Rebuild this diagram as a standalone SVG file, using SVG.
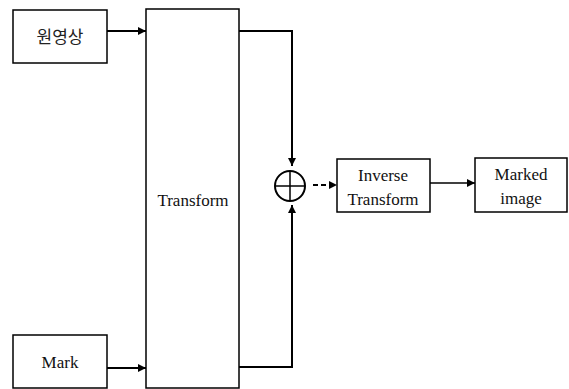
<svg xmlns="http://www.w3.org/2000/svg" width="569" height="389" viewBox="0 0 569 389">
<defs>
<style>
.box{fill:#fff;stroke:#000;stroke-width:1.5}
.t{font-size:17px;fill:#111;text-anchor:middle}
.k{font-family:'Noto Sans CJK KR','Noto Sans',sans-serif;font-size:17px;fill:#222;text-anchor:middle}
.ln{fill:none;stroke:#000;stroke-width:2}
.thin{fill:none;stroke:#000;stroke-width:1.5}
</style>
<marker id="ah" viewBox="0 0 10 10" refX="10" refY="5" markerWidth="8" markerHeight="8" markerUnits="userSpaceOnUse" orient="auto">
<path d="M0,0 L10,5 L0,10 Z" fill="#000"/>
</marker>
</defs>
<rect width="569" height="389" fill="#fff"/>
<g id="node-orig">
<rect class="box" x="13" y="10" width="94" height="53"/>
<text class="k" x="60" y="43">원영상</text>
</g>
<g font-family="'Liberation Serif', 'Times New Roman', serif">
<g id="node-mark">
<rect class="box" x="13" y="335" width="94" height="53"/>
<text class="t" x="60" y="368">Mark</text>
</g>
<g id="node-transform">
<rect class="box" x="146" y="9" width="93" height="379"/>
<text class="t" x="193" y="206">Transform</text>
</g>
<g id="node-inverse">
<rect class="box" x="337" y="159" width="93" height="53"/>
<text class="t" x="383" y="181">Inverse</text>
<text class="t" x="383" y="205">Transform</text>
</g>
<g id="node-marked">
<rect class="box" x="475" y="158" width="92" height="54"/>
<text class="t" x="521" y="180">Marked</text>
<text class="t" x="521" y="204">image</text>
</g>
</g>
<g id="node-sum">
<circle cx="290" cy="186" r="15" fill="#fff" stroke="#000" stroke-width="2"/>
<line x1="275" y1="186" x2="305" y2="186" stroke="#000" stroke-width="1.5"/>
<line x1="290" y1="171" x2="290" y2="201" stroke="#000" stroke-width="1.5"/>
</g>
<g id="connectors">
<line class="ln" x1="107" y1="31" x2="146" y2="31" marker-end="url(#ah)"/>
<line class="ln" x1="107" y1="368" x2="146" y2="368" marker-end="url(#ah)"/>
<polyline class="ln" points="239,31 292,31 292,166" marker-end="url(#ah)"/>
<polyline class="ln" points="239,367 292,367 292,205" marker-end="url(#ah)"/>
<line class="ln" x1="313" y1="185" x2="337" y2="185" stroke-dasharray="5,3" marker-end="url(#ah)"/>
<line class="thin" x1="430" y1="183" x2="475" y2="183" marker-end="url(#ah)"/>
</g>
</svg>
